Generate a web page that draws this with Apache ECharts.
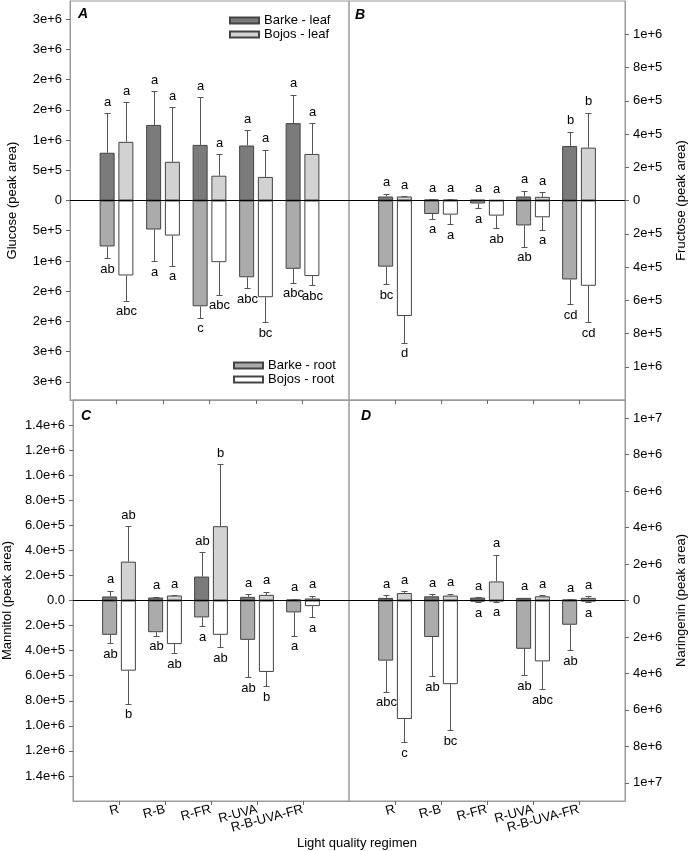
<!DOCTYPE html>
<html>
<head>
<meta charset="utf-8">
<script src="https://cdn.jsdelivr.net/npm/echarts@6/dist/echarts.min.js"></script>
<style>
  html, body { margin: 0; padding: 0; background: #fff; }
  #chart { width: 689px; height: 851px; }
</style>
</head>
<body>
<div id="chart"></div>
<script>
  var categories = ['R', 'R-B', 'R-FR', 'R-UVA', 'R-B-UVA-FR'];

  // A - glucose
  var glcBarkeLeaf = [0.79e6, 1.25e6, 0.92e6, 0.91e6, 1.28e6];
  var glcBarkeLeafErr = [0.65e6, 0.56e6, 0.79e6, 0.25e6, 0.47e6];
  var glcBojosLeaf = [0.97e6, 0.64e6, 0.41e6, 0.39e6, 0.77e6];
  var glcBojosLeafErr = [0.66e6, 0.90e6, 0.36e6, 0.45e6, 0.51e6];
  var glcBarkeRoot = [-0.76e6, -0.48e6, -1.75e6, -1.27e6, -1.13e6];
  var glcBarkeRootErr = [0.19e6, 0.52e6, 0.19e6, 0.18e6, 0.23e6];
  var glcBojosRoot = [-1.24e6, -0.58e6, -1.02e6, -1.60e6, -1.25e6];
  var glcBojosRootErr = [0.42e6, 0.50e6, 0.54e6, 0.41e6, 0.15e6];
  var glcLetters = {
    barkeLeaf: ['a', 'a', 'a', 'a', 'a'],
    bojosLeaf: ['a', 'a', 'a', 'a', 'a'],
    barkeRoot: ['ab', 'a', 'c', 'abc', 'abc'],
    bojosRoot: ['abc', 'a', 'abc', 'bc', 'abc']
  };
  var glcTicks = [-3e6, -2.5e6, -2e6, -1.5e6, -1e6, -5e5, 0, 5e5, 1e6, 1.5e6, 2e6, 2.5e6, 3e6];

  // B - fructose
  var frcBarkeLeaf = [0.024e6, 0.006e6, 0.004e6, 0.024e6, 0.328e6];
  var frcBarkeLeafErr = [0.016e6, 0.002e6, 0.002e6, 0.036e6, 0.086e6];
  var frcBojosLeaf = [0.024e6, 0.005e6, 0.002e6, 0.022e6, 0.318e6];
  var frcBojosLeafErr = [0.002e6, 0.002e6, 0.001e6, 0.028e6, 0.21e6];
  var frcBarkeRoot = [-0.398e6, -0.081e6, -0.018e6, -0.15e6, -0.475e6];
  var frcBarkeRootErr = [0.105e6, 0.028e6, 0.03e6, 0.129e6, 0.149e6];
  var frcBojosRoot = [-0.695e6, -0.085e6, -0.091e6, -0.101e6, -0.513e6];
  var frcBojosRootErr = [0.16e6, 0.058e6, 0.075e6, 0.075e6, 0.218e6];
  var frcLetters = {
    barkeLeaf: ['a', 'a', 'a', 'a', 'b'],
    bojosLeaf: ['a', 'a', 'a', 'a', 'b'],
    barkeRoot: ['bc', 'a', 'a', 'ab', 'cd'],
    bojosRoot: ['d', 'a', 'ab', 'a', 'cd']
  };
  var frcTicks = [-1e6, -8e5, -6e5, -4e5, -2e5, 0, 2e5, 4e5, 6e5, 8e5, 1e6];

  // C - mannitol
  var manBarkeLeaf = [0.032e6, 0.024e6, 0.191e6, 0.029e6, 0.008e6];
  var manBarkeLeafErr = [0.045e6, 0.005e6, 0.196e6, 0.019e6, 0.005e6];
  var manBojosLeaf = [0.31e6, 0.04e6, 0.593e6, 0.045e6, 0.016e6];
  var manBojosLeafErr = [0.283e6, 0.002e6, 0.496e6, 0.024e6, 0.021e6];
  var manBarkeRoot = [-0.274e6, -0.253e6, -0.135e6, -0.314e6, -0.095e6];
  var manBarkeRootErr = [0.066e6, 0.029e6, 0.069e6, 0.299e6, 0.187e6];
  var manBojosRoot = [-0.56e6, -0.348e6, -0.274e6, -0.57e6, -0.045e6];
  var manBojosRootErr = [0.264e6, 0.072e6, 0.098e6, 0.114e6, 0.09e6];
  var manLetters = {
    barkeLeaf: ['a', 'a', 'ab', 'a', 'a'],
    bojosLeaf: ['ab', 'a', 'b', 'a', 'a'],
    barkeRoot: ['ab', 'ab', 'a', 'ab', 'a'],
    bojosRoot: ['b', 'ab', 'ab', 'b', 'a']
  };
  var manTicks = [-1.4e6, -1.2e6, -1e6, -8e5, -6e5, -4e5, -2e5, 0, 2e5, 4e5, 6e5, 8e5, 1e6, 1.2e6, 1.4e6];

  // D - naringenin
  var narBarkeLeaf = [0.144e6, 0.23e6, 0.16e6, 0.144e6, 0.05e6];
  var narBarkeLeafErr = [0.146e6, 0.11e6, 0.02e6, 0.016e6, 0.02e6];
  var narBojosLeaf = [0.41e6, 0.27e6, 1.045e6, 0.23e6, 0.144e6];
  var narBojosLeafErr = [0.09e6, 0.11e6, 1.475e6, 0.06e6, 0.086e6];
  var narBarkeRoot = [-3.3e6, -2.0e6, -0.06e6, -2.65e6, -1.33e6];
  var narBarkeRootErr = [1.7e6, 2.14e6, 0.03e6, 1.45e6, 1.39e6];
  var narBojosRoot = [-6.5e6, -4.59e6, -0.04e6, -3.34e6, -0.05e6];
  var narBojosRootErr = [1.29e6, 2.53e6, 0.03e6, 1.52e6, 0.03e6];
  var narLetters = {
    barkeLeaf: ['a', 'a', 'a', 'a', 'a'],
    bojosLeaf: ['a', 'a', 'a', 'a', 'a'],
    barkeRoot: ['abc', 'ab', 'a', 'ab', 'ab'],
    bojosRoot: ['c', 'bc', 'a', 'abc', 'a']
  };
  var narTicks = [-1e7, -8e6, -6e6, -4e6, -2e6, 0, 2e6, 4e6, 6e6, 8e6, 1e7];

  var FONT = '"Liberation Sans", Arial, sans-serif';
  var colors = { barkeLeaf: '#7b7b7b', bojosLeaf: '#d2d2d2', barkeRoot: '#ababab', bojosRoot: '#ffffff' };
  var names = { barkeLeaf: 'Barke - leaf', bojosLeaf: 'Bojos - leaf', barkeRoot: 'Barke - root', bojosRoot: 'Bojos - root' };

  function fmtInt(v) { return v === 0 ? '0' : Math.abs(v).toExponential(0); }
  function fmtOne(v) { return v === 0 ? '0.0' : Math.abs(v).toExponential(1); }

  var panels = [
    { grid: { left: 70, top: 1, width: 279, height: 399 }, side: 'left', min: -3.3e6, max: 3.3e6, ticks: glcTicks, fmt: fmtInt,
      title: 'Glucose (peak area)', gap: 51, letters: glcLetters,
      vals: { barkeLeaf: [glcBarkeLeaf, glcBarkeLeafErr], bojosLeaf: [glcBojosLeaf, glcBojosLeafErr], barkeRoot: [glcBarkeRoot, glcBarkeRootErr], bojosRoot: [glcBojosRoot, glcBojosRootErr] } },
    { grid: { left: 349, top: 1, width: 278, height: 399 }, side: 'right', min: -1.2e6, max: 1.2e6, ticks: frcTicks, fmt: fmtInt,
      title: 'Fructose (peak area)', gap: 50, letters: frcLetters,
      vals: { barkeLeaf: [frcBarkeLeaf, frcBarkeLeafErr], bojosLeaf: [frcBojosLeaf, frcBojosLeafErr], barkeRoot: [frcBarkeRoot, frcBarkeRootErr], bojosRoot: [frcBojosRoot, frcBojosRootErr] } },
    { grid: { left: 70, top: 400, width: 279, height: 401 }, side: 'left', min: -1.6e6, max: 1.6e6, ticks: manTicks, fmt: fmtOne,
      title: 'Mannitol (peak area)', gap: 59, letters: manLetters,
      vals: { barkeLeaf: [manBarkeLeaf, manBarkeLeafErr], bojosLeaf: [manBojosLeaf, manBojosLeafErr], barkeRoot: [manBarkeRoot, manBarkeRootErr], bojosRoot: [manBojosRoot, manBojosRootErr] } },
    { grid: { left: 349, top: 400, width: 278, height: 401 }, side: 'right', min: -1.1e7, max: 1.1e7, ticks: narTicks, fmt: fmtInt,
      title: 'Naringenin (peak area)', gap: 50, letters: narLetters,
      vals: { barkeLeaf: [narBarkeLeaf, narBarkeLeafErr], bojosLeaf: [narBojosLeaf, narBojosLeafErr], barkeRoot: [narBarkeRoot, narBarkeRootErr], bojosRoot: [narBojosRoot, narBojosRootErr] } }
  ];

  var xCats = [''].concat(categories).concat(['']);

  function pad(arr) { return ['-'].concat(arr).concat(['-']); }

  // error bar + letter, drawn at the bar's slot
  function makeErr(offset, dir, labels) {
    return function (params, api) {
      var c = api.value(0), v = api.value(1), e = api.value(2);
      var p0 = api.coord([c, v]);
      var p1 = api.coord([c, v + dir * e]);
      var x = Math.round(p0[0] + offset) + 0.5;
      var y1 = Math.round(p1[1]) + 0.5;
      return {
        type: 'group',
        children: [
          { type: 'line', shape: { x1: x, y1: p0[1], x2: x, y2: y1 }, style: { stroke: '#555', lineWidth: 1 } },
          { type: 'line', shape: { x1: x - 3, y1: y1, x2: x + 3, y2: y1 }, style: { stroke: '#555', lineWidth: 1 } },
          { type: 'text', style: { text: labels[params.dataIndex], x: x, y: p1[1] - dir * 11,
              align: 'center', verticalAlign: 'middle', textAlign: 'center', textVerticalAlign: 'middle',
              font: '13px ' + FONT, fill: '#000' } }
        ]
      };
    };
  }

  var grids = [], xAxes = [], yAxes = [], series = [];
  panels.forEach(function (p, i) {
    grids.push(Object.assign({ show: true, borderColor: '#9a9a9a', borderWidth: 1, containLabel: false }, p.grid));
    xAxes.push({
      type: 'category', gridIndex: i, data: xCats, boundaryGap: false,
      axisLine: { show: true, onZero: false, lineStyle: { color: '#9a9a9a' } },
      axisTick: { show: true, length: 4, interval: function (idx, val) { return val !== ''; }, lineStyle: { color: '#666' } },
      axisLabel: { show: i >= 2, interval: 0, rotate: 15, fontSize: 13, color: '#000', fontFamily: FONT, margin: 8 },
      splitLine: { show: false }
    });
    yAxes.push({
      type: 'value', gridIndex: i, position: p.side, min: p.min, max: p.max,
      axisLine: { show: true, lineStyle: { color: '#9a9a9a' } },
      axisTick: { show: true, length: 4, customValues: p.ticks, lineStyle: { color: '#666' } },
      axisLabel: { customValues: p.ticks, formatter: p.fmt, fontSize: 13, color: '#000', fontFamily: FONT, margin: 8 },
      splitLine: { show: false },
      name: p.title, nameLocation: 'middle', nameRotate: 90, nameGap: p.gap,
      nameTextStyle: { fontSize: 13, color: '#000', fontFamily: FONT }
    });

    ['barkeLeaf', 'bojosLeaf', 'barkeRoot', 'bojosRoot'].forEach(function (key, k) {
      var s = {
        type: 'bar', name: names[key], xAxisIndex: i, yAxisIndex: i,
        stack: (key.indexOf('barke') === 0 ? 'barke' : 'bojos') + i,
        data: pad(p.vals[key][0]), barWidth: 15, barGap: '25%',
        itemStyle: { color: colors[key], borderColor: '#444', borderWidth: 1 },
        silent: true
      };
      if (k === 0) {
        s.markLine = {
          silent: true, symbol: ['none', 'none'], label: { show: false },
          lineStyle: { color: '#000', width: 1, type: 'solid' },
          data: [{ yAxis: 0 }], animation: false
        };
      }
      series.push(s);
    });

    ['barkeLeaf', 'bojosLeaf', 'barkeRoot', 'bojosRoot'].forEach(function (key) {
      var offset = key.indexOf('barke') === 0 ? -9.375 : 9.375;
      var dir = key.indexOf('Leaf') > 0 ? 1 : -1;
      var v = p.vals[key][0], e = p.vals[key][1];
      series.push({
        type: 'custom', xAxisIndex: i, yAxisIndex: i, silent: true, z: 4,
        data: v.map(function (val, j) { return [j + 1, val, e[j]]; }),
        renderItem: makeErr(offset, dir, p.letters[key])
      });
    });
  });

  var legendText = { fontSize: 13, color: '#000', fontFamily: FONT };
  var option = {
    animation: false,
    backgroundColor: '#fff',
    grid: grids,
    xAxis: xAxes,
    yAxis: yAxes,
    legend: [
      { data: [names.barkeLeaf, names.bojosLeaf], orient: 'vertical', left: 229, top: 14, padding: 0, icon: 'rect',
        itemWidth: 29, itemHeight: 6, itemGap: 1, selectedMode: false, textStyle: legendText },
      { data: [names.barkeRoot, names.bojosRoot], orient: 'vertical', left: 233, top: 359, padding: 0, icon: 'rect',
        itemWidth: 29, itemHeight: 6, itemGap: 1, selectedMode: false, textStyle: legendText }
    ],
    graphic: [
      { type: 'text', left: 78, top: 7, style: { text: 'A', font: 'italic bold 14px ' + FONT, fill: '#000' } },
      { type: 'text', left: 355, top: 8, style: { text: 'B', font: 'italic bold 14px ' + FONT, fill: '#000' } },
      { type: 'text', left: 81, top: 409, style: { text: 'C', font: 'italic bold 14px ' + FONT, fill: '#000' } },
      { type: 'text', left: 361, top: 409, style: { text: 'D', font: 'italic bold 14px ' + FONT, fill: '#000' } },
      { type: 'text', left: 297, top: 837, style: { text: 'Light quality regimen', font: '13px ' + FONT, fill: '#000' } }
    ],
    series: series
  };

  var myChart = echarts.init(document.getElementById('chart'));
  myChart.setOption(option);
  window.addEventListener('resize', myChart.resize);
</script>
</body>
</html>
